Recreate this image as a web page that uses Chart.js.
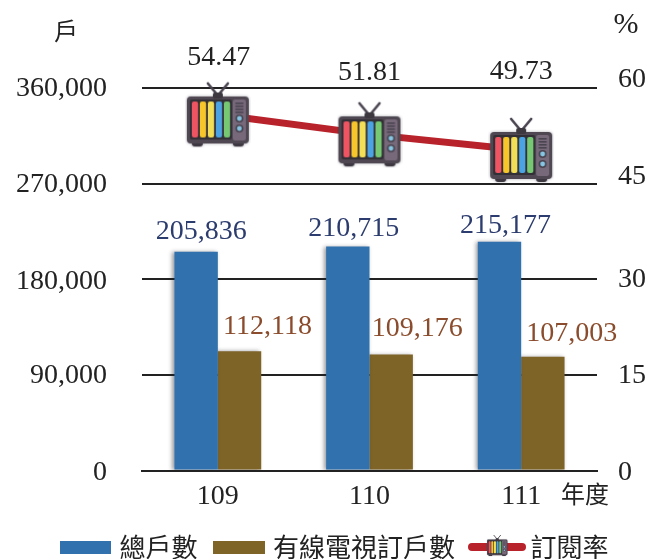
<!DOCTYPE html>
<html lang="zh-Hant"><head><meta charset="utf-8">
<style>html,body{margin:0;padding:0;background:#fff}canvas{display:block}</style>
<script src="https://cdn.jsdelivr.net/npm/chart.js@4"></script></head>
<body><canvas id="c" width="659" height="559"></canvas>
<script>
const categories = ['109','110','111'];
const totalHouseholds = [205836,210715,215177];
const cableHouseholds = [112118,109176,107003];
const subscriptionRate = [54.47,51.81,49.73];
const leftTicks = [0,90000,180000,270000,360000];
const rightTicks = [0,15,30,45,60];
const names = ['總戶數','有線電視訂戶數','訂閱率'];

const NUM = "'Liberation Serif','Noto Sans CJK TC',serif";
const CJK = "'Noto Sans CJK TC','Noto Sans',sans-serif";
const BLUE='#3172ae', BROWN='#7f6428', RED='#b8222a', INK='#222';

function rr(g,x,y,w,h,r){g.beginPath();g.roundRect(x,y,w,h,r);}
function drawTV(g,x,y,s){
  g.save();g.translate(x,y);g.scale(s,s);
  g.shadowColor='rgba(60,50,70,.45)';g.shadowBlur=3*s;
  g.fillStyle='#3d3840';rr(g,5,58,11,6,3);g.fill();rr(g,46,58,11,6,3);g.fill();
  g.fillStyle='#4f4852';rr(g,0,14,62,47,4);g.fill();
  g.shadowBlur=0;
  g.strokeStyle='#4a4450';g.lineWidth=2.6;g.lineCap='round';
  g.beginPath();g.moveTo(21,1);g.lineTo(31,13);g.moveTo(41,1);g.lineTo(31,13);g.stroke();
  g.fillStyle='#3d3840';rr(g,26,10,10,6,2);g.fill();
  g.fillStyle='#332f36';rr(g,3,17,42,40,2);g.fill();
  ['#ef5463','#f6c62b','#f3de57','#4ba3e3','#76c873'].forEach((c,i)=>{
    g.fillStyle=c;rr(g,5+i*8,19,6.2,36,2);g.fill();
  });
  g.fillStyle='#77697a';rr(g,46,17,13,41,2);g.fill();
  g.fillStyle='#4a4450';for(let i=0;i<4;i++)g.fillRect(48.5,20+i*3,8,1.6);
  [36,46].forEach(cy=>{
    g.fillStyle='#4a4450';g.beginPath();g.arc(52.5,cy,4,0,7);g.fill();
    g.fillStyle='#86c6e4';g.beginPath();g.arc(52.5,cy,2.4,0,7);g.fill();
  });
  g.restore();
}
function mk(w,h,fn){const c=document.createElement('canvas');c.width=w;c.height=h;fn(c.getContext('2d'));return c;}
const tvPoint = mk(66,68,g=>drawTV(g,2,2,1));
const boxBlue = mk(51,13,g=>{g.fillStyle=BLUE;g.fillRect(0,0,51,13);});
const boxBrown= mk(52,13,g=>{g.fillStyle=BROWN;g.fillRect(0,0,52,13);});
const lineKey = mk(58,26,g=>{g.fillStyle=RED;rr(g,0,9,58,8,4);g.fill();drawTV(g,19,1,0.33);});

const barLabelOffsets=[[[5,-20],[6,-18],[6,-16]],[[28,-25],[26,-26],[29,-23]]];
const rateLabelOffsets=[[1,-57],[0,-62],[0,-78]];
const rightTickNudge=[2,1,0,-7,-8];
const leftTickNudge=[2,1,2,1,1];

function nudge(s,arr){if(s._nudged)return;s._nudged=true;const f=s.getPixelForTick;s.getPixelForTick=i=>f.call(s,i)+arr[i];}

const shadows={id:'shadows',
  beforeDatasetDraw(ch,a){if(ch.data.datasets[a.index].type==='bar'){const g=ch.ctx;g.save();g.shadowColor='rgba(40,40,50,.45)';g.shadowBlur=4;g.shadowOffsetX=-2;}},
  afterDatasetDraw(ch,a){if(ch.data.datasets[a.index].type==='bar'){ch.ctx.restore();}}};
const labels={id:'labels',afterDatasetsDraw(ch){
  const g=ch.ctx;g.save();g.textAlign='center';g.textBaseline='middle';
  g.font='28px '+NUM;
  [[1,'#2c3c6e'],[2,'#8a4c2c']].forEach(([di,col],k)=>{
    g.fillStyle=col;
    ch.getDatasetMeta(di).data.forEach((el,i)=>{
      const o=barLabelOffsets[k][i];
      g.fillText(ch.data.datasets[di].data[i].toLocaleString('en-US'),el.x+o[0],el.y+o[1]);
    });
  });
  g.fillStyle=INK;
  ch.getDatasetMeta(0).data.forEach((el,i)=>{
    const o=rateLabelOffsets[i];
    g.fillText(subscriptionRate[i].toFixed(2),el.x+o[0],el.y+o[1]);
  });
  g.font='24px '+CJK;
  g.fillText('戶',66,31);
  g.fillText('年度',585,494);
  g.font='30px '+NUM;
  g.fillText('%',626,25);
  g.restore();
}};

new Chart(document.getElementById('c'),{
  data:{labels:categories,datasets:[
    {type:'line',label:names[2],data:subscriptionRate,yAxisID:'yRate',borderColor:RED,borderWidth:7,clip:false,
     pointStyle:tvPoint,pointRadius:30,pointHoverRadius:30,tension:0,order:0},
    {type:'bar',label:names[0],data:totalHouseholds,yAxisID:'y',backgroundColor:BLUE,order:1,
     categoryPercentage:0.572,barPercentage:1},
    {type:'bar',label:names[1],data:cableHouseholds,yAxisID:'y',backgroundColor:BROWN,order:1,
     categoryPercentage:0.572,barPercentage:1}
  ]},
  options:{responsive:false,animation:false,
    layout:{padding:{top:88,left:15,right:0,bottom:-11}},
    plugins:{tooltip:{enabled:false},
      legend:{position:'bottom',
        labels:{usePointStyle:true,pointStyleWidth:41,padding:21.5,color:INK,font:{family:CJK,size:26},
          generateLabels(){return [
            {text:names[0],pointStyle:boxBlue,fontColor:INK,lineWidth:0,datasetIndex:1},
            {text:names[1],pointStyle:boxBrown,fontColor:INK,lineWidth:0,datasetIndex:2},
            {text:names[2],pointStyle:lineKey,fontColor:INK,lineWidth:0,datasetIndex:0}];}}}},
    scales:{
      x:{grid:{display:false},border:{display:true,color:INK,width:2},
        ticks:{color:INK,font:{family:NUM,size:28},padding:1,maxRotation:0},
        afterFit(s){s.height=42;}},
      y:{position:'left',min:0,max:360000,border:{display:false},
        grid:{color:INK,lineWidth:2,drawTicks:false},
        afterBuildTicks(s){s.ticks=leftTicks.map(v=>({value:v}));},
        ticks:{color:INK,font:{family:NUM,size:28},padding:35,callback:v=>v.toLocaleString('en-US')},
        afterFit(s){s.width=127;}},
      y1:{position:'right',min:0,max:60,border:{display:false},grid:{display:false,drawTicks:false},
        afterBuildTicks(s){s.ticks=rightTicks.map(v=>({value:v}));},
        ticks:{color:INK,font:{family:NUM,size:28},padding:21},
        afterFit(s){s.width=62;},
        afterUpdate(s){nudge(s,rightTickNudge);}},
      yRate:{display:false,position:'right',min:6.94,max:58.0}
    }
  },
  plugins:[shadows,labels,{id:'leftNudge',afterLayout(ch){
    const s=ch.scales.y;if(s._labelNudged)return;s._labelNudged=true;
    const draw=s.getLabelItems;s.getLabelItems=function(a){return draw.call(this,a).map((it,i)=>{
      const o=it.options||{};return {...it,textOffset:it.textOffset+leftTickNudge[i]};});};
  }}]
});
</script></body></html>
